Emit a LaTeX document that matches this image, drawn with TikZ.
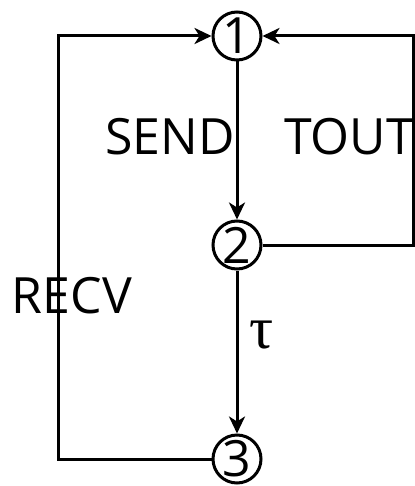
\documentclass[tikz,border=0pt]{standalone}
\usepackage{fontspec}
\setmainfont{Open Sans}
\newfontfamily\greekfont{Liberation Serif}
\usetikzlibrary{positioning,arrows.meta}

\begin{document}
\begin{tikzpicture}[
    x=1pt,y=-1pt,
    >={Stealth[length=17pt,width=16pt,inset=5pt]},
    every node/.style={font=\fontsize{50}{56}\selectfont},
    statenode/.style={
        circle,
        draw=black,
        line width=3pt,
        minimum size=48pt,
        inner sep=0pt,
    },
    edge/.style={line width=3pt,color=black},
    lbl/.style={inner sep=0pt},
]
\useasboundingbox (0,0) rectangle (414,486);

% === States ===
\node[statenode] (st1) at (237,36) {1};
\node[statenode] (st2) at (237,245) {2};
\node[statenode] (st3) at (237,459) {3};

% === Corners of the loops ===
\coordinate (recvbot) at (58,459);
\coordinate (recvtop) at (58,36);
\coordinate (toutbot) at (413,245);
\coordinate (touttop) at (413,36);

% === Transitions ===
\draw[edge,->] (st1) -- (st2);
\draw[edge,->] (st2) -- (st3);
\draw[edge,->] (st3) -- (recvbot) -- (recvtop) -- (st1);
\draw[edge,->] (st2) -- (toutbot) -- (touttop) -- (st1);

% === Labels ===
\node[lbl] (send) at (170,137) {SEND};
\node[lbl,anchor=west] (tout) at (284,137) {TOUT};
\node[lbl] (recv) at (72,296) {RECV};
\node[lbl,font=\greekfont\fontsize{60}{66}\selectfont] (tau) at (262,335) {τ};

\end{tikzpicture}
\end{document}
